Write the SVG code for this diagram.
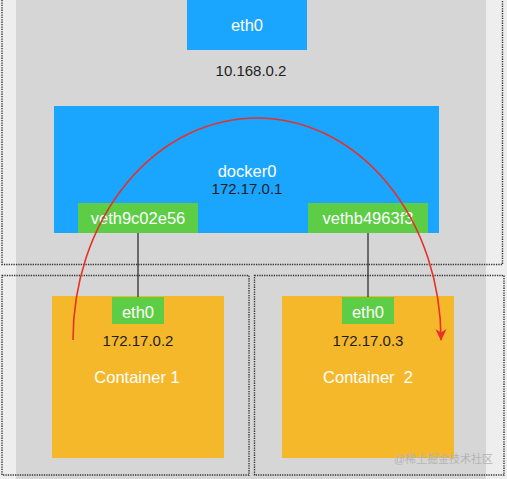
<svg xmlns="http://www.w3.org/2000/svg" width="507" height="479" viewBox="0 0 507 479">
<defs>
<style>
.frame{fill:none;stroke:#333333;stroke-width:1.4;stroke-dasharray:1.3,1.1}
.blue{fill:#1aa5fe}
.green{fill:#5ccd45}
.yellow{fill:#f6b82b}
.lbl{font-family:"Liberation Sans",Arial,sans-serif;font-size:16.5px;fill:#ffffff;text-anchor:middle}
.ip{font-family:"Liberation Sans",Arial,sans-serif;font-size:15px;fill:#1e1e1e;text-anchor:middle}
.wire{stroke:#222;stroke-width:1.2;fill:none}
</style>
<marker id="ah" viewBox="0 0 12 12" refX="11" refY="6" markerWidth="12" markerHeight="12" markerUnits="userSpaceOnUse" orient="auto">
<path d="M0,0.5 L12,6 L0,11.5 L3.5,6 Z" fill="#e8302a"/>
</marker>
</defs>
<rect x="0" y="0" width="507" height="479" fill="#eeeeee"/>
<rect x="16" y="0" width="470" height="479" fill="#d6d6d6"/>
<g id="host-frame"><path class="frame" d="M2,0 V264.5 H502.5 V0"/></g>
<g id="container1-frame"><rect class="frame" x="2" y="275.5" width="247" height="199.5"/></g>
<g id="container2-frame"><rect class="frame" x="254.5" y="275.5" width="249.5" height="199.5"/></g>
<g id="host-eth0"><rect class="blue" x="187" y="0" width="120" height="50"/><text class="lbl" x="247" y="31">eth0</text></g>
<text class="ip" x="251" y="75.5">10.168.0.2</text>
<g id="docker0"><rect class="blue" x="54" y="106" width="385" height="127"/><text class="lbl" x="247" y="177">docker0</text><text class="ip" x="247" y="194">172.17.0.1</text></g>
<g id="veth1"><rect class="green" x="78" y="203" width="120" height="30"/><text class="lbl" x="138" y="224">veth9c02e56</text></g>
<g id="veth2"><rect class="green" x="308" y="203" width="120" height="30"/><text class="lbl" x="368" y="224">vethb4963f3</text></g>
<g id="container1"><rect class="yellow" x="52" y="296" width="172" height="162"/><rect class="green" x="112" y="297" width="52" height="27"/><text class="lbl" x="138" y="318">eth0</text><text class="ip" x="138" y="345.5">172.17.0.2</text><text class="lbl" x="137" y="383">Container 1</text></g>
<g id="container2"><rect class="yellow" x="282" y="296" width="172" height="162"/><rect class="green" x="342" y="297" width="52" height="27"/><text class="lbl" x="368" y="318">eth0</text><text class="ip" x="368" y="345.5">172.17.0.3</text><text class="lbl" x="368" y="383" xml:space="preserve">Container  2</text></g>
<g id="connectors">
<line class="wire" x1="138" y1="233" x2="138" y2="297"/>
<line class="wire" x1="368" y1="233" x2="368" y2="297"/>
<path d="M73,340 A184,222 0 0 1 441,340" fill="none" stroke="#e8302a" stroke-width="1.6" marker-end="url(#ah)"/>
</g>
<text x="493" y="463" text-anchor="end" font-family="'Liberation Sans','Noto Sans CJK SC',sans-serif" font-size="11" fill="#b4b4b4">@稀土掘金技术社区</text>
</svg>
